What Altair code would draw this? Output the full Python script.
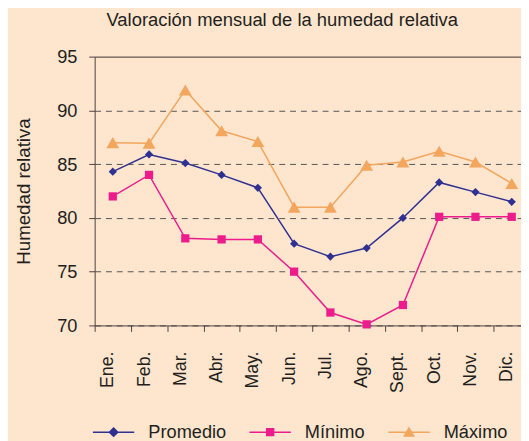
import altair as alt
import pandas as pd

months = ["Ene.", "Feb.", "Mar.", "Abr.", "May.", "Jun.", "Jul.", "Ago.", "Sept.", "Oct.", "Nov.", "Dic."]
promedio = [84.3, 85.9, 85.1, 84.0, 82.8, 77.6, 76.4, 77.2, 80.0, 83.3, 82.4, 81.5]
minimo = [82.0, 84.0, 78.1, 78.0, 78.0, 75.0, 71.2, 70.1, 71.9, 80.1, 80.1, 80.1]
maximo = [87.0, 86.95, 91.9, 88.1, 87.1, 81.0, 81.0, 84.9, 85.2, 86.2, 85.2, 83.2]
series_names = ["Promedio", "Mínimo", "Máximo"]
y_ticks = [70, 75, 80, 85, 90, 95]

colors = ["#2E3192", "#EC1C8C", "#F2A65E"]
point_shapes = ["diamond", "square", "triangle-up"]
point_sizes = [70, 70, 170]
legend_paths = [
    "M-4.2,0H4.2M0,-0.85L0.85,0L0,0.85L-0.85,0Z",
    "M-4.2,0H4.2M-0.7,-0.7H0.7V0.7H-0.7Z",
    "M-4.2,0H4.2M0,-0.85L0.95,0.8H-0.95Z",
]

rows = []
for name, vals in zip(series_names, [promedio, minimo, maximo]):
    for m, v in zip(months, vals):
        rows.append({"mes": m, "valor": v, "serie": name})
df = pd.DataFrame(rows)

FONT = "Liberation Sans"
TXT = "#231F20"

x_enc = alt.X(
    "mes:N",
    sort=months,
    scale=alt.Scale(domain=months, range=[0, 442], paddingInner=0, paddingOuter=0),
    axis=alt.Axis(
        title=None, labelAngle=270, labelAlign="right", labelBaseline="alphabetic",
        labelPadding=20, tickBand="extent", tickSize=6, grid=False,
        domainColor="#4A4040", tickColor="#4A4040", labelFontSize=18,
        labelFont=FONT, labelColor=TXT,
    ),
)
y_enc = alt.Y(
    "valor:Q",
    scale=alt.Scale(domain=[70, 95], nice=False, zero=False),
    axis=alt.Axis(
        title="Humedad relativa", values=y_ticks, tickSize=6, labelPadding=12,
        titlePadding=24, titleFontSize=19, titleFontWeight="normal", titleFont=FONT,
        titleColor=TXT, labelFontSize=18.5, labelFont=FONT, labelColor=TXT,
        domainColor="#4A4040", tickColor="#4A4040",
        grid=True,
        gridDash={"condition": {"test": "datum.value === 95", "value": []}, "value": [6, 5]},
        gridColor={"condition": {"test": "datum.value === 95", "value": "#3A3030"}, "value": "#555555"},
        gridWidth=1,
    ),
)

base = alt.Chart(df)

legend_layer = base.mark_point(filled=True, opacity=0, strokeWidth=1.5).encode(
    x=x_enc, y=y_enc,
    fill=alt.Fill("serie:N", scale=alt.Scale(domain=series_names, range=colors),
                  legend=alt.Legend(title=None, symbolOpacity=1)),
    stroke=alt.Stroke("serie:N", scale=alt.Scale(domain=series_names, range=colors),
                      legend=alt.Legend(title=None, symbolOpacity=1)),
    shape=alt.Shape("serie:N", scale=alt.Scale(domain=series_names, range=legend_paths),
                    legend=alt.Legend(title=None, symbolOpacity=1)),
)

lines = base.mark_line(strokeWidth=1.5).encode(
    x=x_enc, y=y_enc,
    color=alt.Color("serie:N", scale=alt.Scale(domain=series_names, range=colors), legend=None),
    detail="serie:N",
)

point_layers = []
for name, col, shp, sz in zip(series_names, colors, point_shapes, point_sizes):
    point_layers.append(
        base.transform_filter(alt.datum.serie == name)
        .mark_point(shape=shp, filled=True, size=sz, color=col, opacity=1)
        .encode(x=x_enc, y=y_enc)
    )

chart = alt.layer(legend_layer, lines, *point_layers).properties(
    width=433,
    height=273,
    autosize=alt.AutoSizeParams(type="none"),
    padding={"left": 88, "top": 46, "right": 0, "bottom": 114},
    background="#FDE5CE",
    title=alt.TitleParams(
        "Valoración mensual de la humedad relativa", font=FONT, fontSize=18.7,
        fontWeight="normal", color=TXT, dx=-26, offset=18,
    ),
).configure_view(stroke=None).configure_legend(
    orient="none", direction="horizontal", legendX=10, legendY=372,
    symbolSize=100, symbolStrokeWidth=1.5, symbolOpacity=1,
    labelFontSize=18.5, labelFont=FONT, labelColor=TXT, labelOffset=26,
    columnPadding=20, padding=0,
)

chart.save("out.html", embed_options={"renderer": "svg", "actions": False})
